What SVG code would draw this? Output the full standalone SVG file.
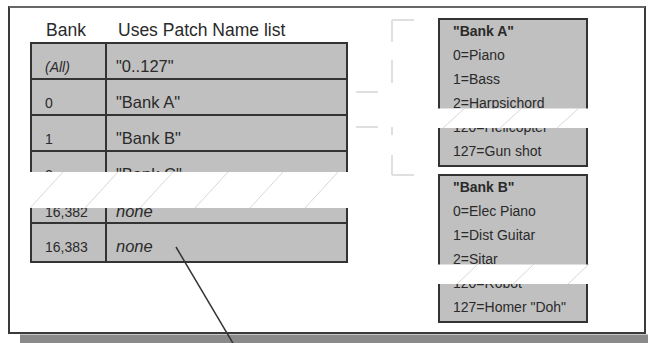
<svg xmlns="http://www.w3.org/2000/svg" width="648" height="343" viewBox="0 0 648 343">
<style>
text{font-family:"Liberation Sans",Arial,sans-serif;fill:#2a2a2a}
.hd{font-size:17.5px}
.lc{font-size:14px}
.rc{font-size:16.5px}
.it{font-style:italic}
.bx{font-size:14px}
.b{font-weight:bold}
.cell{fill:#c0c0c0;stroke:#333;stroke-width:2}
.grid{stroke:#333;stroke-width:2;fill:none}
.band{fill:#fff}
.hatch{stroke:#d8d8d8;stroke-width:1;fill:none}
.dash{stroke:#e0e0e0;stroke-width:2;fill:none}
</style>
<rect x="0" y="0" width="648" height="343" fill="#fff"/>
<g id="frame">
<rect x="20" y="334.5" width="640" height="10" fill="#8a8a8a"/>
<rect x="9" y="7" width="636" height="326" fill="#fff" stroke="#3a3a3a" stroke-width="2"/>
<line x1="9" y1="7" x2="645" y2="7" stroke="#777" stroke-width="1.5"/>
</g>
<g id="table">
<text class="hd" x="46" y="36">Bank</text>
<text class="hd" x="118" y="36">Uses Patch Name list</text>
<rect class="cell" x="31" y="43" width="316" height="219"/>
<path class="grid" d="M106 43V262M31 79H347M31 115H347M31 151H347M31 223H347"/>
<text class="lc it" x="45" y="72">(All)</text>
<text class="rc" x="116" y="72">"0..127"</text>
<text class="lc" x="45" y="108">0</text>
<text class="rc" x="116" y="108">"Bank A"</text>
<text class="lc" x="45" y="144">1</text>
<text class="rc" x="116" y="144">"Bank B"</text>
<text class="lc" x="45" y="180">2</text>
<text class="rc" x="116" y="180">"Bank C"</text>
<text class="lc" x="45" y="217">16,382</text>
<text class="rc it" x="116" y="217">none</text>
<text class="lc" x="45" y="252">16,383</text>
<text class="rc it" x="116" y="252">none</text>
<rect class="band" x="29" y="172" width="320" height="36"/>
<path class="hatch" d="M30 208L63 172M85 208L118 172M140 208L173 172M195 208L228 172M250 208L283 172M305 208L338 172"/>
</g>
<g id="bankA">
<rect class="cell" x="439" y="19" width="148" height="147"/>
<text class="bx b" x="453" y="36">"Bank A"</text>
<text class="bx" x="453" y="60">0=Piano</text>
<text class="bx" x="453" y="84">1=Bass</text>
<text class="bx" x="453" y="108">2=Harpsichord</text>
<text class="bx" x="453" y="132">120=Helicopter</text>
<text class="bx" x="453" y="156">127=Gun shot</text>
<rect class="band" x="437" y="108.5" width="153" height="19.5"/>
<path class="hatch" d="M443 128L465 108M500 128L522 108M557 128L579 108"/>
</g>
<g id="bankB">
<rect class="cell" x="439" y="175" width="148" height="147"/>
<text class="bx b" x="453" y="192">"Bank B"</text>
<text class="bx" x="453" y="216">0=Elec Piano</text>
<text class="bx" x="453" y="240">1=Dist Guitar</text>
<text class="bx" x="453" y="264">2=Sitar</text>
<text class="bx" x="453" y="288">120=Robot</text>
<text class="bx" x="453" y="312">127=Homer "Doh"</text>
<rect class="band" x="437" y="264.5" width="153" height="19.5"/>
<path class="hatch" d="M457 284L478 264M513 284L534 264M568 284L589 264"/>
</g>
<g id="connectors">
<path class="dash" d="M356 92H378M356 127H378M392 20H414M392 175H414M392 20V42M392 60V83M392 127V135M392 155V175"/>
<line x1="176" y1="247" x2="234" y2="345" stroke="#333" stroke-width="1.5"/>
</g>
</svg>
